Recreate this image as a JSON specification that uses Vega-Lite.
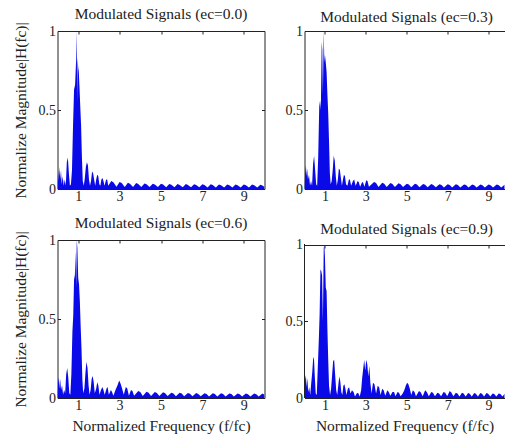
{
"$schema": "https://vega.github.io/schema/vega-lite/v6.json",
"padding": {"left": 12.5, "top": 7, "right": 0, "bottom": 0},
"autosize": {"type": "pad"},
"background": "white",
"columns": 2,
"spacing": {"row": 51, "column": 40},
"bounds": "flush",
"config": {
  "view": {"stroke": null},
  "font": "Liberation Serif",
  "title": {"font": "Liberation Serif", "fontSize": 15.5, "fontWeight": "normal", "color": "#222", "frame": "group", "anchor": "middle"},
  "axis": {"domainColor": "#222", "tickColor": "#222", "labelColor": "#222", "titleColor": "#222", "labelFont": "Liberation Serif", "labelFontSize": 14, "titleFont": "Liberation Serif", "titleFontSize": 15.5, "titleFontWeight": "normal", "grid": false, "tickSize": -3, "domainWidth": 1, "tickWidth": 1}
},
"datasets": {
"a": [
{"f":0,"m":0.02},{"f":0.03,"m":0.12},{"f":0.06,"m":0.05},{"f":0.1,"m":0.14},{"f":0.13,"m":0.06},{"f":0.17,"m":0.12},{"f":0.2,"m":0.03},{"f":0.25,"m":0.08},{"f":0.3,"m":0.02},{"f":0.35,"m":0.06},{"f":0.4,"m":0.02},{"f":0.45,"m":0.17},{"f":0.5,"m":0.2},{"f":0.55,"m":0.1},{"f":0.6,"m":0.02},{"f":0.65,"m":0.03},{"f":0.7,"m":0.12},{"f":0.75,"m":0.4},{"f":0.8,"m":0.63},{"f":0.85,"m":0.66},{"f":0.9,"m":0.82},{"f":0.93,"m":1.0},{"f":0.95,"m":0.55},{"f":0.97,"m":0.83},{"f":1.0,"m":0.77},{"f":1.03,"m":0.74},{"f":1.06,"m":0.65},{"f":1.1,"m":0.52},{"f":1.14,"m":0.4},{"f":1.18,"m":0.2},{"f":1.22,"m":0.05},{"f":1.27,"m":0.02},{"f":1.32,"m":0.07},{"f":1.37,"m":0.14},{"f":1.42,"m":0.17},{"f":1.47,"m":0.15},{"f":1.52,"m":0.06},{"f":1.57,"m":0.02},{"f":1.62,"m":0.05},{"f":1.67,"m":0.11},{"f":1.72,"m":0.1},{"f":1.77,"m":0.06},{"f":1.82,"m":0.02},{"f":1.87,"m":0.06},{"f":1.92,"m":0.09},{"f":1.97,"m":0.08},{"f":2.02,"m":0.03},{"f":2.07,"m":0.02},{"f":2.12,"m":0.06},{"f":2.17,"m":0.07},{"f":2.22,"m":0.05},{"f":2.27,"m":0.02},{"f":2.35,"m":0.06},{"f":2.4,"m":0.06},{"f":2.45,"m":0.02},
{"f":2.6,"m":0.05},{"f":2.7,"m":0.042},{"f":2.85,"m":0.014},{"f":3.0,"m":0.045},{"f":3.1,"m":0.038},{"f":3.25,"m":0.013},{"f":3.4,"m":0.04},{"f":3.5,"m":0.034},{"f":3.65,"m":0.012},{"f":3.8,"m":0.038},{"f":3.9,"m":0.032},{"f":4.05,"m":0.012},{"f":4.2,"m":0.035},{"f":4.3,"m":0.03},{"f":4.45,"m":0.012},{"f":4.6,"m":0.034},{"f":4.7,"m":0.028},{"f":4.85,"m":0.012},{"f":5.0,"m":0.033},{"f":5.1,"m":0.028},{"f":5.25,"m":0.011},{"f":5.4,"m":0.032},{"f":5.5,"m":0.027},{"f":5.65,"m":0.011},{"f":5.8,"m":0.031},{"f":5.9,"m":0.026},{"f":6.05,"m":0.011},{"f":6.2,"m":0.031},{"f":6.3,"m":0.026},{"f":6.45,"m":0.011},{"f":6.6,"m":0.03},{"f":6.7,"m":0.025},{"f":6.85,"m":0.011},{"f":7.0,"m":0.03},{"f":7.1,"m":0.025},{"f":7.25,"m":0.01},{"f":7.4,"m":0.03},{"f":7.5,"m":0.025},{"f":7.65,"m":0.01},{"f":7.8,"m":0.029},{"f":7.9,"m":0.024},{"f":8.05,"m":0.01},{"f":8.2,"m":0.029},{"f":8.3,"m":0.024},{"f":8.45,"m":0.01},{"f":8.6,"m":0.028},{"f":8.7,"m":0.024},{"f":8.85,"m":0.01},{"f":9.0,"m":0.028},{"f":9.1,"m":0.023},{"f":9.25,"m":0.01},{"f":9.4,"m":0.028},{"f":9.5,"m":0.023},{"f":9.65,"m":0.01},{"f":9.8,"m":0.027},{"f":9.9,"m":0.022},{"f":10,"m":0.012}
],
"b": [
{"f":0,"m":0.02},{"f":0.03,"m":0.1},{"f":0.07,"m":0.15},{"f":0.1,"m":0.08},{"f":0.13,"m":0.13},{"f":0.17,"m":0.06},{"f":0.22,"m":0.09},{"f":0.27,"m":0.02},{"f":0.32,"m":0.05},{"f":0.37,"m":0.02},{"f":0.42,"m":0.16},{"f":0.47,"m":0.21},{"f":0.52,"m":0.12},{"f":0.57,"m":0.03},{"f":0.62,"m":0.02},{"f":0.67,"m":0.2},{"f":0.72,"m":0.52},{"f":0.76,"m":0.56},{"f":0.8,"m":0.5},{"f":0.84,"m":0.93},{"f":0.87,"m":0.88},{"f":0.9,"m":0.6},{"f":0.94,"m":1.0},{"f":0.97,"m":0.8},{"f":1.0,"m":0.85},{"f":1.04,"m":0.8},{"f":1.08,"m":0.74},{"f":1.12,"m":0.6},{"f":1.16,"m":0.48},{"f":1.2,"m":0.3},{"f":1.24,"m":0.1},{"f":1.28,"m":0.03},{"f":1.33,"m":0.05},{"f":1.38,"m":0.12},{"f":1.43,"m":0.21},{"f":1.48,"m":0.18},{"f":1.53,"m":0.08},{"f":1.58,"m":0.02},{"f":1.63,"m":0.06},{"f":1.68,"m":0.13},{"f":1.73,"m":0.12},{"f":1.78,"m":0.07},{"f":1.83,"m":0.02},{"f":1.88,"m":0.06},{"f":1.93,"m":0.09},{"f":1.98,"m":0.08},{"f":2.03,"m":0.03},{"f":2.1,"m":0.02},{"f":2.17,"m":0.06},{"f":2.22,"m":0.06},{"f":2.28,"m":0.02},{"f":2.37,"m":0.05},{"f":2.43,"m":0.06},{"f":2.5,"m":0.02},{"f":2.6,"m":0.05},{"f":2.65,"m":0.045},{"f":2.72,"m":0.015},{"f":2.82,"m":0.045},{"f":2.87,"m":0.04},{"f":2.93,"m":0.015},{"f":3.02,"m":0.055},{"f":3.08,"m":0.05},{"f":3.15,"m":0.015},
{"f":3.4,"m":0.045},{"f":3.5,"m":0.038},{"f":3.62,"m":0.013},{"f":3.8,"m":0.04},{"f":3.9,"m":0.034},{"f":4.02,"m":0.012},{"f":4.2,"m":0.038},{"f":4.3,"m":0.032},{"f":4.42,"m":0.012},{"f":4.6,"m":0.036},{"f":4.7,"m":0.03},{"f":4.82,"m":0.012},{"f":5.0,"m":0.034},{"f":5.1,"m":0.029},{"f":5.22,"m":0.011},{"f":5.4,"m":0.033},{"f":5.5,"m":0.028},{"f":5.62,"m":0.011},{"f":5.8,"m":0.032},{"f":5.9,"m":0.027},{"f":6.02,"m":0.011},{"f":6.2,"m":0.031},{"f":6.3,"m":0.026},{"f":6.42,"m":0.011},{"f":6.6,"m":0.03},{"f":6.7,"m":0.026},{"f":6.82,"m":0.01},{"f":7.0,"m":0.03},{"f":7.1,"m":0.025},{"f":7.22,"m":0.01},{"f":7.4,"m":0.03},{"f":7.5,"m":0.025},{"f":7.62,"m":0.01},{"f":7.8,"m":0.029},{"f":7.9,"m":0.025},{"f":8.02,"m":0.01},{"f":8.2,"m":0.029},{"f":8.3,"m":0.024},{"f":8.42,"m":0.01},{"f":8.6,"m":0.029},{"f":8.7,"m":0.024},{"f":8.82,"m":0.01},{"f":9.0,"m":0.028},{"f":9.1,"m":0.024},{"f":9.22,"m":0.01},{"f":9.4,"m":0.028},{"f":9.5,"m":0.024},{"f":9.62,"m":0.01},{"f":9.8,"m":0.028}
],
"c": [
{"f":0,"m":0.02},{"f":0.03,"m":0.1},{"f":0.07,"m":0.13},{"f":0.1,"m":0.06},{"f":0.13,"m":0.12},{"f":0.17,"m":0.05},{"f":0.22,"m":0.08},{"f":0.27,"m":0.02},{"f":0.32,"m":0.05},{"f":0.37,"m":0.03},{"f":0.42,"m":0.15},{"f":0.47,"m":0.19},{"f":0.52,"m":0.13},{"f":0.57,"m":0.03},{"f":0.62,"m":0.02},{"f":0.67,"m":0.15},{"f":0.72,"m":0.42},{"f":0.76,"m":0.52},{"f":0.8,"m":0.75},{"f":0.84,"m":0.78},{"f":0.87,"m":0.93},{"f":0.9,"m":0.7},{"f":0.93,"m":1.0},{"f":0.96,"m":0.95},{"f":1.0,"m":0.76},{"f":1.04,"m":0.72},{"f":1.08,"m":0.61},{"f":1.12,"m":0.45},{"f":1.16,"m":0.31},{"f":1.2,"m":0.12},{"f":1.24,"m":0.03},{"f":1.3,"m":0.06},{"f":1.35,"m":0.16},{"f":1.4,"m":0.23},{"f":1.45,"m":0.19},{"f":1.5,"m":0.08},{"f":1.55,"m":0.02},{"f":1.6,"m":0.05},{"f":1.65,"m":0.12},{"f":1.7,"m":0.14},{"f":1.75,"m":0.1},{"f":1.8,"m":0.03},{"f":1.87,"m":0.06},{"f":1.92,"m":0.1},{"f":1.97,"m":0.08},{"f":2.03,"m":0.02},{"f":2.1,"m":0.05},{"f":2.17,"m":0.07},{"f":2.22,"m":0.05},{"f":2.28,"m":0.02},{"f":2.37,"m":0.06},{"f":2.42,"m":0.07},{"f":2.48,"m":0.02},{"f":2.58,"m":0.05},{"f":2.63,"m":0.04},{"f":2.7,"m":0.015},{"f":2.8,"m":0.05},{"f":2.9,"m":0.08},{"f":2.98,"m":0.11},{"f":3.05,"m":0.09},{"f":3.12,"m":0.06},{"f":3.2,"m":0.02},{"f":3.3,"m":0.07},{"f":3.37,"m":0.06},{"f":3.45,"m":0.015},{"f":3.55,"m":0.05},{"f":3.62,"m":0.045},{"f":3.7,"m":0.015},
{"f":3.9,"m":0.045},{"f":4.0,"m":0.038},{"f":4.12,"m":0.013},{"f":4.3,"m":0.04},{"f":4.4,"m":0.034},{"f":4.52,"m":0.012},{"f":4.7,"m":0.038},{"f":4.8,"m":0.032},{"f":4.92,"m":0.012},{"f":5.1,"m":0.036},{"f":5.2,"m":0.03},{"f":5.32,"m":0.012},{"f":5.5,"m":0.034},{"f":5.6,"m":0.029},{"f":5.72,"m":0.011},{"f":5.9,"m":0.033},{"f":6.0,"m":0.028},{"f":6.12,"m":0.011},{"f":6.3,"m":0.032},{"f":6.4,"m":0.027},{"f":6.52,"m":0.011},{"f":6.7,"m":0.031},{"f":6.8,"m":0.026},{"f":6.92,"m":0.011},{"f":7.1,"m":0.03},{"f":7.2,"m":0.026},{"f":7.32,"m":0.01},{"f":7.5,"m":0.03},{"f":7.6,"m":0.025},{"f":7.72,"m":0.01},{"f":7.9,"m":0.03},{"f":8.0,"m":0.025},{"f":8.12,"m":0.01},{"f":8.3,"m":0.029},{"f":8.4,"m":0.025},{"f":8.52,"m":0.01},{"f":8.7,"m":0.029},{"f":8.8,"m":0.024},{"f":8.92,"m":0.01},{"f":9.1,"m":0.029},{"f":9.2,"m":0.024},{"f":9.32,"m":0.01},{"f":9.5,"m":0.028},{"f":9.6,"m":0.024},{"f":9.72,"m":0.01},{"f":9.9,"m":0.028},{"f":10,"m":0.02}
],
"d": [
{"f":0,"m":0.02},{"f":0.03,"m":0.12},{"f":0.07,"m":0.15},{"f":0.1,"m":0.07},{"f":0.14,"m":0.13},{"f":0.18,"m":0.04},{"f":0.23,"m":0.07},{"f":0.28,"m":0.02},{"f":0.33,"m":0.1},{"f":0.38,"m":0.17},{"f":0.42,"m":0.25},{"f":0.46,"m":0.27},{"f":0.5,"m":0.15},{"f":0.55,"m":0.03},{"f":0.6,"m":0.02},{"f":0.65,"m":0.2},{"f":0.7,"m":0.38},{"f":0.74,"m":0.55},{"f":0.78,"m":0.84},{"f":0.82,"m":0.83},{"f":0.86,"m":0.8},{"f":0.9,"m":0.5},{"f":0.94,"m":0.98},{"f":0.97,"m":1.0},{"f":1.0,"m":0.92},{"f":1.04,"m":0.72},{"f":1.08,"m":0.7},{"f":1.12,"m":0.45},{"f":1.16,"m":0.25},{"f":1.2,"m":0.08},{"f":1.25,"m":0.02},{"f":1.3,"m":0.06},{"f":1.35,"m":0.15},{"f":1.4,"m":0.24},{"f":1.45,"m":0.25},{"f":1.5,"m":0.15},{"f":1.55,"m":0.05},{"f":1.6,"m":0.02},{"f":1.65,"m":0.08},{"f":1.7,"m":0.14},{"f":1.75,"m":0.11},{"f":1.8,"m":0.04},{"f":1.85,"m":0.02},{"f":1.9,"m":0.08},{"f":1.95,"m":0.09},{"f":2.0,"m":0.06},{"f":2.05,"m":0.02},{"f":2.12,"m":0.06},{"f":2.18,"m":0.07},{"f":2.25,"m":0.03},{"f":2.32,"m":0.05},{"f":2.4,"m":0.04},{"f":2.47,"m":0.01},{"f":2.55,"m":0.03},{"f":2.62,"m":0.035},{"f":2.7,"m":0.01},{"f":2.77,"m":0.05},{"f":2.82,"m":0.13},{"f":2.87,"m":0.19},{"f":2.92,"m":0.25},{"f":2.97,"m":0.18},{"f":3.02,"m":0.25},{"f":3.07,"m":0.22},{"f":3.12,"m":0.14},{"f":3.17,"m":0.21},{"f":3.22,"m":0.1},{"f":3.28,"m":0.03},{"f":3.35,"m":0.1},{"f":3.42,"m":0.09},{"f":3.5,"m":0.03},{"f":3.58,"m":0.08},{"f":3.65,"m":0.07},{"f":3.72,"m":0.02},{"f":3.8,"m":0.06},{"f":3.87,"m":0.05},{"f":3.95,"m":0.015},{"f":4.05,"m":0.05},{"f":4.12,"m":0.04},{"f":4.2,"m":0.015},{"f":4.3,"m":0.04},{"f":4.38,"m":0.04},{"f":4.45,"m":0.012},{"f":4.55,"m":0.04},{"f":4.62,"m":0.035},{"f":4.7,"m":0.012},{"f":4.8,"m":0.03},{"f":4.88,"m":0.05},{"f":4.95,"m":0.08},{"f":5.02,"m":0.1},{"f":5.08,"m":0.09},{"f":5.15,"m":0.06},{"f":5.22,"m":0.02},{"f":5.3,"m":0.05},{"f":5.38,"m":0.04},{"f":5.45,"m":0.012},
{"f":5.6,"m":0.045},{"f":5.68,"m":0.038},{"f":5.78,"m":0.012},{"f":5.9,"m":0.05},{"f":5.98,"m":0.04},{"f":6.08,"m":0.012},{"f":6.2,"m":0.04},{"f":6.28,"m":0.034},{"f":6.38,"m":0.011},{"f":6.5,"m":0.035},{"f":6.58,"m":0.03},{"f":6.68,"m":0.011},{"f":6.8,"m":0.04},{"f":6.88,"m":0.034},{"f":6.98,"m":0.011},{"f":7.1,"m":0.045},{"f":7.18,"m":0.036},{"f":7.28,"m":0.011},{"f":7.4,"m":0.035},{"f":7.48,"m":0.03},{"f":7.58,"m":0.01},{"f":7.7,"m":0.035},{"f":7.78,"m":0.03},{"f":7.88,"m":0.01},{"f":8.0,"m":0.033},{"f":8.08,"m":0.028},{"f":8.18,"m":0.01},{"f":8.3,"m":0.033},{"f":8.38,"m":0.028},{"f":8.48,"m":0.01},{"f":8.6,"m":0.032},{"f":8.68,"m":0.027},{"f":8.78,"m":0.01},{"f":8.9,"m":0.032},{"f":8.98,"m":0.027},{"f":9.08,"m":0.01},{"f":9.2,"m":0.03},{"f":9.28,"m":0.026},{"f":9.38,"m":0.01},{"f":9.5,"m":0.03},{"f":9.58,"m":0.026},{"f":9.68,"m":0.01},{"f":9.8,"m":0.03}
]
},
"concat": [
  {"width": 207, "height": 158,
   "title": {"text": "Modulated Signals (ec=0.0)", "offset": -1},
   "data": {"name": "a"},
   "resolve": {"axis": {"x": "independent", "y": "independent"}},
   "layer": [
    {"mark": {"type": "area", "color": "#0a0ae8", "clip": true},
     "encoding": {
      "x": {"field": "f", "type": "quantitative", "scale": {"domain": [0, 10], "nice": false, "zero": false}, "axis": {"values": [1,3,5,7,9], "labelPadding": 3, "title": null}},
      "y": {"field": "m", "type": "quantitative", "stack": null, "scale": {"domain": [0, 1], "nice": false}, "axis": {"values": [0,0.5,1], "labelExpr": "'' + datum.value", "labelPadding": 5, "title": "Normalize Magnitude|H(fc)|", "titlePadding": 10}}}},
    {"mark": {"type": "point", "opacity": 0},
     "encoding": {
      "x": {"field": "f", "type": "quantitative", "axis": {"orient": "top", "values": [1,3,5,7,9], "labels": false, "title": null}},
      "y": {"field": "m", "type": "quantitative", "axis": {"orient": "right", "values": [0,0.5,1], "labels": false, "title": null}}}}
   ]},
  {"width": 200, "height": 158,
   "title": {"text": "Modulated Signals (ec=0.3)", "offset": -1, "dx": 2},
   "data": {"name": "b"},
   "resolve": {"axis": {"x": "independent", "y": "independent"}},
   "layer": [
    {"mark": {"type": "area", "color": "#0a0ae8", "clip": true},
     "encoding": {
      "x": {"field": "f", "type": "quantitative", "scale": {"domain": [0, 9.78], "nice": false, "zero": false}, "axis": {"values": [1,3,5,7,9], "labelPadding": 3, "title": null}},
      "y": {"field": "m", "type": "quantitative", "stack": null, "scale": {"domain": [0, 1], "nice": false}, "axis": {"values": [0,0.5,1], "labelExpr": "'' + datum.value", "labelPadding": 5, "title": null}}}},
    {"mark": {"type": "point", "opacity": 0},
     "encoding": {
      "x": {"field": "f", "type": "quantitative", "axis": {"orient": "top", "values": [1,3,5,7,9], "labels": false, "title": null}},
      "y": {"field": "m", "type": "quantitative", "axis": null}}}
   ]},
  {"width": 207, "height": 158,
   "title": {"text": "Modulated Signals (ec=0.6)", "offset": -1},
   "data": {"name": "c"},
   "resolve": {"axis": {"x": "independent", "y": "independent"}},
   "layer": [
    {"mark": {"type": "area", "color": "#0a0ae8", "clip": true},
     "encoding": {
      "x": {"field": "f", "type": "quantitative", "scale": {"domain": [0, 10], "nice": false, "zero": false}, "axis": {"values": [1,3,5,7,9], "labelPadding": 3, "title": "Normalized Frequency (f/fc)", "titlePadding": 6}},
      "y": {"field": "m", "type": "quantitative", "stack": null, "scale": {"domain": [0, 1], "nice": false}, "axis": {"values": [0,0.5,1], "labelExpr": "'' + datum.value", "labelPadding": 5, "title": "Normalize Magnitude|H(fc)|", "titlePadding": 10}}}},
    {"mark": {"type": "point", "opacity": 0},
     "encoding": {
      "x": {"field": "f", "type": "quantitative", "axis": {"orient": "top", "values": [1,3,5,7,9], "labels": false, "title": null}},
      "y": {"field": "m", "type": "quantitative", "axis": {"orient": "right", "values": [0,0.5,1], "labels": false, "title": null}}}}
   ]},
  {"width": 200, "height": 158,
   "title": {"text": "Modulated Signals (ec=0.9)", "offset": 0, "dx": 2},
   "data": {"name": "d"},
   "resolve": {"axis": {"x": "independent", "y": "independent"}},
   "layer": [
    {"mark": {"type": "area", "color": "#0a0ae8", "clip": true},
     "encoding": {
      "x": {"field": "f", "type": "quantitative", "scale": {"domain": [0, 9.78], "nice": false, "zero": false}, "axis": {"values": [1,3,5,7,9], "labelPadding": 3, "title": "Normalized Frequency (f/fc)", "titlePadding": 6}},
      "y": {"field": "m", "type": "quantitative", "stack": null, "scale": {"domain": [0, 1.0326], "nice": false}, "axis": {"values": [0,0.5,1], "labelExpr": "'' + datum.value", "labelPadding": 5, "title": null, "domain": false}}}},
    {"mark": {"type": "point", "opacity": 0},
     "encoding": {
      "x": {"field": "f", "type": "quantitative", "axis": {"orient": "top", "values": [1,3,5,7,9], "labels": false, "title": null, "offset": -5}},
      "y": {"field": "m", "type": "quantitative", "axis": null}}},
    {"mark": {"type": "rule", "color": "#222", "strokeWidth": 1},
     "encoding": {"x": {"datum": 0, "axis": null}, "y": {"datum": 0, "axis": null}, "y2": {"datum": 1}}}
   ]}
]
}
